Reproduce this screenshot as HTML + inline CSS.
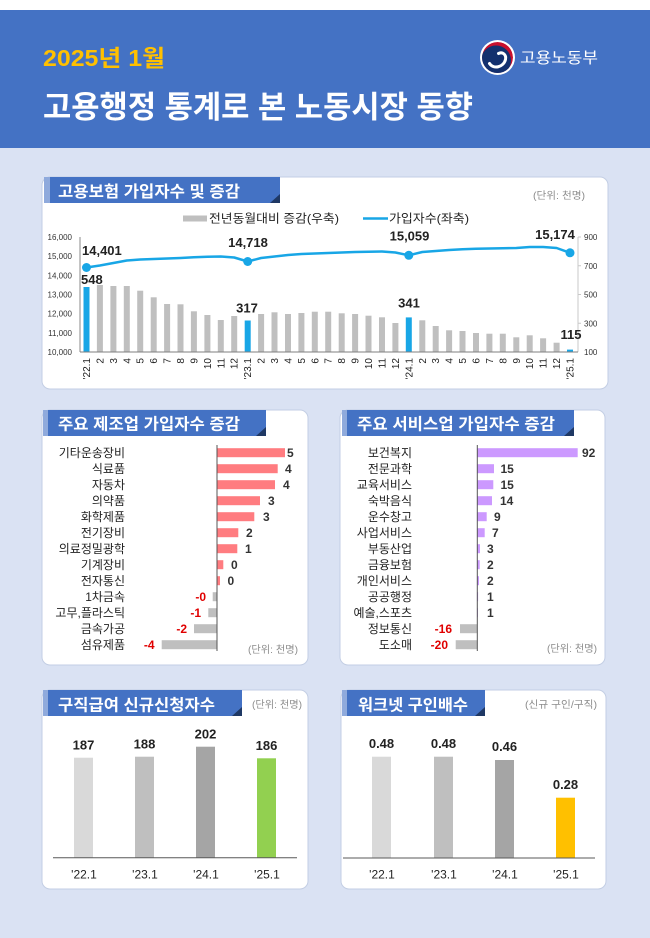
<!DOCTYPE html>
<html lang="ko">
<head>
<meta charset="utf-8">
<style>
html,body{margin:0;padding:0;background:#dae2f3;}
svg{display:block;}
text{font-family:"Liberation Sans","Noto Sans CJK KR",sans-serif;}
</style>
</head>
<body>
<svg width="650" height="938" viewBox="0 0 650 938" xmlns="http://www.w3.org/2000/svg">
<defs>
<clipPath id="lg"><circle cx="0" cy="0" r="15.5"/></clipPath>
</defs>
<!-- background -->
<rect x="0" y="0" width="650" height="938" fill="#dae2f3"/>
<rect x="0" y="0" width="650" height="10" fill="#ffffff"/>
<rect x="0" y="10" width="650" height="138" fill="#4472c4"/>

<!-- header -->
<text x="43" y="66" font-size="23" font-weight="bold" fill="#ffc000" textLength="122" lengthAdjust="spacingAndGlyphs">2025년 1월</text>
<text x="43" y="118" font-size="31" font-weight="bold" fill="#ffffff" textLength="430" lengthAdjust="spacingAndGlyphs">고용행정 통계로 본 노동시장 동향</text>
<!-- logo -->
<g transform="translate(497.5,57.5)">
  <circle r="17.5" fill="#ffffff"/>
  <g clip-path="url(#lg)">
    <circle r="15.5" fill="#c8102e"/>
    <circle cx="-1.5" cy="3" r="15" fill="#13306e"/>
    <path d="M -8 6 C -4 12, 6 10, 8 2 C 9 -3, 5 -6, 1 -4" fill="none" stroke="#ffffff" stroke-width="3" stroke-linecap="round"/>
  </g>
</g>
<text x="520" y="63" font-size="15.5" fill="#ffffff" textLength="78" lengthAdjust="spacingAndGlyphs">고용노동부</text>

<!-- ============ PANEL 1 ============ -->
<rect x="42" y="177" width="566" height="212" rx="8" ry="8" fill="#ffffff" stroke="#c3cee4" stroke-width="1"/>
<rect x="44" y="177" width="6" height="26" fill="#8faadc"/>
<rect x="50" y="177" width="230" height="26" fill="#4472c4"/>
<polygon points="270,203 280,203 280,194" fill="#1f3864"/>
<text x="58" y="197" font-size="16" font-weight="bold" fill="#ffffff" textLength="182" lengthAdjust="spacingAndGlyphs">고용보험 가입자수 및 증감</text>
<text x="533" y="199" font-size="10" fill="#8c8c8c" textLength="52" lengthAdjust="spacingAndGlyphs">(단위: 천명)</text>

<!-- legend -->
<rect x="183" y="215.5" width="24" height="6" fill="#bfbfbf"/>
<text x="209" y="222.5" font-size="12" fill="#222" textLength="130" lengthAdjust="spacingAndGlyphs">전년동월대비 증감(우축)</text>
<line x1="363" y1="218.5" x2="388" y2="218.5" stroke="#18a6e6" stroke-width="2.5"/>
<text x="389" y="222.5" font-size="12" fill="#222" textLength="80" lengthAdjust="spacingAndGlyphs">가입자수(좌축)</text>

<!-- axes -->
<line x1="80" y1="237" x2="80" y2="352" stroke="#8a8a8a" stroke-width="1"/>
<line x1="578" y1="237" x2="578" y2="352" stroke="#c8c8c8" stroke-width="1"/>
<g stroke="#c8c8c8" stroke-width="1">
<line x1="578" y1="237" x2="581" y2="237"/>
<line x1="578" y1="265.75" x2="581" y2="265.75"/>
<line x1="578" y1="294.5" x2="581" y2="294.5"/>
<line x1="578" y1="323.25" x2="581" y2="323.25"/>
</g>
<g font-size="8" fill="#333" text-anchor="end">
<text x="72" y="240">16,000</text>
<text x="72" y="259.2">15,000</text>
<text x="72" y="278.3">14,000</text>
<text x="72" y="297.5">13,000</text>
<text x="72" y="316.7">12,000</text>
<text x="72" y="335.8">11,000</text>
<text x="72" y="355">10,000</text>
</g>
<g font-size="8" fill="#333">
<text x="584" y="240">900</text>
<text x="584" y="268.8">700</text>
<text x="584" y="297.5">500</text>
<text x="584" y="326.3">300</text>
<text x="584" y="355">100</text>
</g>

<!-- bars -->
<g fill="#bfbfbf">
<rect x="96.9" y="285" width="6" height="67"/>
<rect x="110.4" y="286" width="6" height="66"/>
<rect x="123.8" y="286" width="6" height="66"/>
<rect x="137.2" y="290.7" width="6" height="61.3"/>
<rect x="150.7" y="297.3" width="6" height="54.7"/>
<rect x="164.1" y="304" width="6" height="48"/>
<rect x="177.5" y="304.3" width="6" height="47.7"/>
<rect x="190.9" y="311.3" width="6" height="40.7"/>
<rect x="204.4" y="315" width="6" height="37"/>
<rect x="217.8" y="320" width="6" height="32"/>
<rect x="231.2" y="316" width="6" height="36"/>
<rect x="258.1" y="314" width="6" height="38"/>
<rect x="271.5" y="312.3" width="6" height="39.7"/>
<rect x="285" y="314" width="6" height="38"/>
<rect x="298.4" y="313" width="6" height="39"/>
<rect x="311.8" y="311.7" width="6" height="40.3"/>
<rect x="325.2" y="311.7" width="6" height="40.3"/>
<rect x="338.7" y="313.3" width="6" height="38.7"/>
<rect x="352.1" y="314" width="6" height="38"/>
<rect x="365.5" y="315.7" width="6" height="36.3"/>
<rect x="379" y="317.3" width="6" height="34.7"/>
<rect x="392.4" y="323" width="6" height="29"/>
<rect x="419.3" y="320.3" width="6" height="31.7"/>
<rect x="432.7" y="326" width="6" height="26"/>
<rect x="446.1" y="330.3" width="6" height="21.7"/>
<rect x="459.5" y="331" width="6" height="21"/>
<rect x="473" y="333" width="6" height="19"/>
<rect x="486.4" y="333.7" width="6" height="18.3"/>
<rect x="499.8" y="333.7" width="6" height="18.3"/>
<rect x="513.3" y="337.3" width="6" height="14.7"/>
<rect x="526.7" y="335.3" width="6" height="16.7"/>
<rect x="540.1" y="338.3" width="6" height="13.7"/>
<rect x="553.6" y="342.7" width="6" height="9.3"/>
</g>
<g fill="#18a6e6">
<rect x="83.5" y="287" width="6" height="65"/>
<rect x="244.7" y="320.5" width="6" height="31.5"/>
<rect x="405.8" y="317.4" width="6" height="34.6"/>
<rect x="567" y="349.6" width="6" height="2.4"/>
</g>
<line x1="80" y1="352" x2="578" y2="352" stroke="#7f7f7f" stroke-width="1"/>

<!-- line -->
<polyline fill="none" stroke="#18a6e6" stroke-width="2.5" stroke-linejoin="round" points="86.5,267.5 99.9,265.5 113.4,263 126.8,260.5 140.2,259.5 153.7,259 167.1,258.5 180.5,258 193.9,257.3 207.4,256.7 220.8,256.5 234.2,257.5 247.7,261.5 261.1,258 274.5,256.5 288,255 301.4,254 314.8,253.5 328.2,253 341.7,252.5 355.1,252 368.5,251.7 382,251.5 395.4,252.5 408.8,255.3 422.3,252 435.7,251 449.1,250 462.5,249.2 476,248.8 489.4,248.5 502.8,248.3 516.3,248 529.7,247 543.1,247 556.6,248 570,252.8"/>
<g fill="#18a6e6">
<circle cx="86.5" cy="267.5" r="4.5"/>
<circle cx="247.7" cy="261.5" r="4.5"/>
<circle cx="408.8" cy="255.3" r="4.5"/>
<circle cx="570" cy="252.8" r="4.5"/>
</g>

<!-- data labels -->
<g font-size="13" font-weight="bold" fill="#222">
<text x="82" y="255">14,401</text>
<text x="81" y="284">548</text>
<text x="248" y="247" text-anchor="middle">14,718</text>
<text x="247" y="312.5" text-anchor="middle">317</text>
<text x="409.5" y="240.5" text-anchor="middle">15,059</text>
<text x="555" y="239" text-anchor="middle">15,174</text>
<text x="409" y="307.5" text-anchor="middle">341</text>
<text x="571" y="339" text-anchor="middle">115</text>
</g>

<!-- x labels (rotated) -->
<g font-size="10" fill="#222" text-anchor="end">
<text x="90" y="358" transform="rotate(-90 90 358)">'22.1</text>
<text x="103.4" y="358" transform="rotate(-90 103.4 358)">2</text>
<text x="116.9" y="358" transform="rotate(-90 116.9 358)">3</text>
<text x="130.3" y="358" transform="rotate(-90 130.3 358)">4</text>
<text x="143.7" y="358" transform="rotate(-90 143.7 358)">5</text>
<text x="157.2" y="358" transform="rotate(-90 157.2 358)">6</text>
<text x="170.6" y="358" transform="rotate(-90 170.6 358)">7</text>
<text x="184" y="358" transform="rotate(-90 184 358)">8</text>
<text x="197.4" y="358" transform="rotate(-90 197.4 358)">9</text>
<text x="210.9" y="358" transform="rotate(-90 210.9 358)">10</text>
<text x="224.3" y="358" transform="rotate(-90 224.3 358)">11</text>
<text x="237.7" y="358" transform="rotate(-90 237.7 358)">12</text>
<text x="251.2" y="358" transform="rotate(-90 251.2 358)">'23.1</text>
<text x="264.6" y="358" transform="rotate(-90 264.6 358)">2</text>
<text x="278" y="358" transform="rotate(-90 278 358)">3</text>
<text x="291.5" y="358" transform="rotate(-90 291.5 358)">4</text>
<text x="304.9" y="358" transform="rotate(-90 304.9 358)">5</text>
<text x="318.3" y="358" transform="rotate(-90 318.3 358)">6</text>
<text x="331.7" y="358" transform="rotate(-90 331.7 358)">7</text>
<text x="345.2" y="358" transform="rotate(-90 345.2 358)">8</text>
<text x="358.6" y="358" transform="rotate(-90 358.6 358)">9</text>
<text x="372" y="358" transform="rotate(-90 372 358)">10</text>
<text x="385.5" y="358" transform="rotate(-90 385.5 358)">11</text>
<text x="398.9" y="358" transform="rotate(-90 398.9 358)">12</text>
<text x="412.3" y="358" transform="rotate(-90 412.3 358)">'24.1</text>
<text x="425.8" y="358" transform="rotate(-90 425.8 358)">2</text>
<text x="439.2" y="358" transform="rotate(-90 439.2 358)">3</text>
<text x="452.6" y="358" transform="rotate(-90 452.6 358)">4</text>
<text x="466" y="358" transform="rotate(-90 466 358)">5</text>
<text x="479.5" y="358" transform="rotate(-90 479.5 358)">6</text>
<text x="492.9" y="358" transform="rotate(-90 492.9 358)">7</text>
<text x="506.3" y="358" transform="rotate(-90 506.3 358)">8</text>
<text x="519.8" y="358" transform="rotate(-90 519.8 358)">9</text>
<text x="533.2" y="358" transform="rotate(-90 533.2 358)">10</text>
<text x="546.6" y="358" transform="rotate(-90 546.6 358)">11</text>
<text x="560.1" y="358" transform="rotate(-90 560.1 358)">12</text>
<text x="573.5" y="358" transform="rotate(-90 573.5 358)">'25.1</text>
</g>

<!-- ============ PANEL 2 (manufacturing) ============ -->
<rect x="42" y="410" width="266" height="255" rx="8" ry="8" fill="#ffffff" stroke="#c3cee4" stroke-width="1"/>
<rect x="43" y="410" width="5" height="26" fill="#8faadc"/>
<rect x="48" y="410" width="218" height="26" fill="#4472c4"/>
<polygon points="256,436 266,436 266,427" fill="#1f3864"/>
<text x="58" y="429.5" font-size="16" font-weight="bold" fill="#ffffff" textLength="182" lengthAdjust="spacingAndGlyphs">주요 제조업 가입자수 증감</text>

<g font-size="12" fill="#222" text-anchor="end">
<text x="125" y="457">기타운송장비</text>
<text x="125" y="473">식료품</text>
<text x="125" y="489">자동차</text>
<text x="125" y="505">의약품</text>
<text x="125" y="521">화학제품</text>
<text x="125" y="537">전기장비</text>
<text x="125" y="553">의료정밀광학</text>
<text x="125" y="569">기계장비</text>
<text x="125" y="585">전자통신</text>
<text x="125" y="601">1차금속</text>
<text x="125" y="617">고무,플라스틱</text>
<text x="125" y="633">금속가공</text>
<text x="125" y="649">섬유제품</text>
</g>
<g fill="#ff7c80">
<rect x="217" y="448.2" width="68" height="9"/>
<rect x="217" y="464.2" width="60.7" height="9"/>
<rect x="217" y="480.2" width="58" height="9"/>
<rect x="217" y="496.2" width="43" height="9"/>
<rect x="217" y="512.2" width="37.3" height="9"/>
<rect x="217" y="528.2" width="21.3" height="9"/>
<rect x="217" y="544.2" width="20.3" height="9"/>
<rect x="217" y="560.2" width="6.3" height="9"/>
<rect x="217" y="576.2" width="3" height="9"/>
</g>
<g fill="#bfbfbf">
<rect x="212.7" y="592.2" width="4.3" height="9"/>
<rect x="208.3" y="608.2" width="8.7" height="9"/>
<rect x="194" y="624.2" width="23" height="9"/>
<rect x="161.7" y="640.2" width="55.3" height="9"/>
</g>
<line x1="217" y1="445" x2="217" y2="651" stroke="#555" stroke-width="1"/>
<g font-size="12" font-weight="bold" fill="#333">
<text x="287" y="457">5</text>
<text x="285" y="473">4</text>
<text x="283" y="489">4</text>
<text x="268" y="505">3</text>
<text x="263" y="521">3</text>
<text x="246" y="537">2</text>
<text x="245" y="553">1</text>
<text x="231" y="569">0</text>
<text x="227.5" y="585">0</text>
</g>
<g font-size="12" font-weight="bold" fill="#e00000" text-anchor="end">
<text x="206" y="601">-0</text>
<text x="201" y="617">-1</text>
<text x="187" y="633">-2</text>
<text x="154.5" y="649">-4</text>
</g>
<text x="248" y="653" font-size="10" fill="#8c8c8c" textLength="50" lengthAdjust="spacingAndGlyphs">(단위: 천명)</text>

<!-- ============ PANEL 3 (services) ============ -->
<rect x="340" y="410" width="265" height="255" rx="8" ry="8" fill="#ffffff" stroke="#c3cee4" stroke-width="1"/>
<rect x="342" y="410" width="5" height="26" fill="#8faadc"/>
<rect x="347" y="410" width="227" height="26" fill="#4472c4"/>
<polygon points="564,436 574,436 574,427" fill="#1f3864"/>
<text x="357" y="429.5" font-size="16" font-weight="bold" fill="#ffffff" textLength="198" lengthAdjust="spacingAndGlyphs">주요 서비스업 가입자수 증감</text>

<g font-size="12" fill="#222" text-anchor="end">
<text x="412" y="457">보건복지</text>
<text x="412" y="473">전문과학</text>
<text x="412" y="489">교육서비스</text>
<text x="412" y="505">숙박음식</text>
<text x="412" y="521">운수창고</text>
<text x="412" y="537">사업서비스</text>
<text x="412" y="553">부동산업</text>
<text x="412" y="569">금융보험</text>
<text x="412" y="585">개인서비스</text>
<text x="412" y="601">공공행정</text>
<text x="412" y="617">예술,스포츠</text>
<text x="412" y="633">정보통신</text>
<text x="412" y="649">도소매</text>
</g>
<g fill="#cc99ff">
<rect x="477.3" y="448.2" width="100.4" height="9"/>
<rect x="477.3" y="464.2" width="16.7" height="9"/>
<rect x="477.3" y="480.2" width="16" height="9"/>
<rect x="477.3" y="496.2" width="14.7" height="9"/>
<rect x="477.3" y="512.2" width="9.4" height="9"/>
<rect x="477.3" y="528.2" width="7.4" height="9"/>
<rect x="477.3" y="544.2" width="2.7" height="9"/>
<rect x="477.3" y="560.2" width="2.4" height="9"/>
<rect x="477.3" y="576.2" width="1.7" height="9"/>
<rect x="477.3" y="592.2" width="0.8" height="9"/>
<rect x="477.3" y="608.2" width="0.6" height="9"/>
</g>
<g fill="#bfbfbf">
<rect x="460" y="624.2" width="17.3" height="9"/>
<rect x="455.7" y="640.2" width="21.6" height="9"/>
</g>
<line x1="477.3" y1="445" x2="477.3" y2="651" stroke="#555" stroke-width="1"/>
<g font-size="12" font-weight="bold" fill="#333">
<text x="582" y="457">92</text>
<text x="500.5" y="473">15</text>
<text x="500.5" y="489">15</text>
<text x="500" y="505">14</text>
<text x="494" y="521">9</text>
<text x="492" y="537">7</text>
<text x="487" y="553">3</text>
<text x="487" y="569">2</text>
<text x="487" y="585">2</text>
<text x="487" y="601">1</text>
<text x="487" y="617">1</text>
</g>
<g font-size="12" font-weight="bold" fill="#e00000" text-anchor="end">
<text x="452" y="633">-16</text>
<text x="448" y="649">-20</text>
</g>
<text x="547" y="652" font-size="10" fill="#8c8c8c" textLength="50" lengthAdjust="spacingAndGlyphs">(단위: 천명)</text>

<!-- ============ PANEL 4 ============ -->
<rect x="42" y="690" width="266" height="199" rx="8" ry="8" fill="#ffffff" stroke="#c3cee4" stroke-width="1"/>
<rect x="43" y="690" width="5" height="26" fill="#8faadc"/>
<rect x="48" y="690" width="194" height="26" fill="#4472c4"/>
<polygon points="232,716 242,716 242,707" fill="#1f3864"/>
<text x="58" y="710.5" font-size="16" font-weight="bold" fill="#ffffff" textLength="157" lengthAdjust="spacingAndGlyphs">구직급여 신규신청자수</text>
<text x="252" y="708" font-size="10" fill="#8c8c8c" textLength="50" lengthAdjust="spacingAndGlyphs">(단위: 천명)</text>

<rect x="74" y="757.7" width="19" height="100" fill="#d9d9d9"/>
<rect x="135" y="756.7" width="19" height="101" fill="#bfbfbf"/>
<rect x="196" y="746.7" width="19" height="111" fill="#a5a5a5"/>
<rect x="257" y="758.3" width="19" height="99.4" fill="#92d050"/>
<line x1="53" y1="857.7" x2="297" y2="857.7" stroke="#595959" stroke-width="1"/>
<g font-size="13" font-weight="bold" fill="#222" text-anchor="middle">
<text x="83.5" y="749.5">187</text>
<text x="144.5" y="748.5">188</text>
<text x="205.5" y="738.5">202</text>
<text x="266.5" y="750">186</text>
</g>
<g font-size="12" fill="#222" text-anchor="middle">
<text x="84" y="878.3">'22.1</text>
<text x="145" y="878.3">'23.1</text>
<text x="206" y="878.3">'24.1</text>
<text x="267" y="878.3">'25.1</text>
</g>

<!-- ============ PANEL 5 ============ -->
<rect x="341" y="690" width="265" height="199" rx="8" ry="8" fill="#ffffff" stroke="#c3cee4" stroke-width="1"/>
<rect x="342" y="690" width="5" height="26" fill="#8faadc"/>
<rect x="347" y="690" width="138" height="26" fill="#4472c4"/>
<polygon points="475,716 485,716 485,707" fill="#1f3864"/>
<text x="358" y="710.5" font-size="16" font-weight="bold" fill="#ffffff" textLength="110" lengthAdjust="spacingAndGlyphs">워크넷 구인배수</text>
<text x="525" y="708" font-size="10" fill="#8c8c8c" textLength="72" lengthAdjust="spacingAndGlyphs">(신규 구인/구직)</text>

<rect x="372" y="756.7" width="19" height="101.3" fill="#d9d9d9"/>
<rect x="434" y="756.7" width="19" height="101.3" fill="#bfbfbf"/>
<rect x="495" y="760" width="19" height="98" fill="#a5a5a5"/>
<rect x="556" y="797.7" width="19" height="60.3" fill="#ffc000"/>
<line x1="343" y1="858" x2="595" y2="858" stroke="#595959" stroke-width="1"/>
<g font-size="13" font-weight="bold" fill="#222" text-anchor="middle">
<text x="381.5" y="748">0.48</text>
<text x="443.5" y="748">0.48</text>
<text x="504.5" y="751">0.46</text>
<text x="565.5" y="789">0.28</text>
</g>
<g font-size="12" fill="#222" text-anchor="middle">
<text x="382" y="878.3">'22.1</text>
<text x="444" y="878.3">'23.1</text>
<text x="505" y="878.3">'24.1</text>
<text x="566" y="878.3">'25.1</text>
</g>
</svg>
</body>
</html>
